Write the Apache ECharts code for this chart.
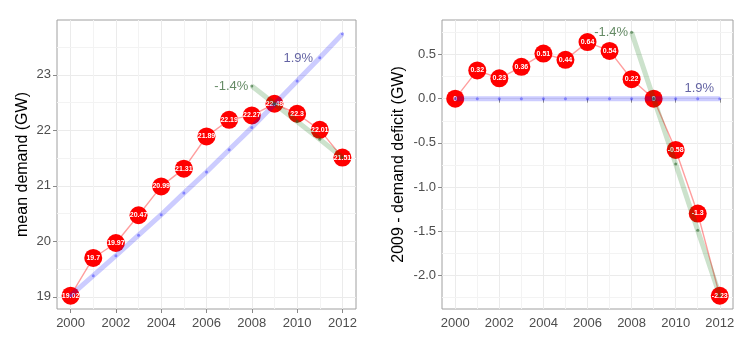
<!DOCTYPE html>
<html><head><meta charset="utf-8">
<script src="https://cdn.jsdelivr.net/npm/echarts@6/dist/echarts.min.js"></script>
<style>html,body{margin:0;padding:0;background:#fff}#c{width:754px;height:362px}</style>
</head><body><div id="c"></div>
<script>
const years = [2000,2001,2002,2003,2004,2005,2006,2007,2008,2009,2010,2011,2012];
const meanDemand = [19.02,19.7,19.97,20.47,20.99,21.31,21.89,22.19,22.27,22.48,22.3,22.01,21.51];
const growthTrend = [19.02,19.38,19.74,20.11,20.48,20.87,21.25,21.65,22.05,22.47,22.89,23.31,23.74];
const declineYears = [2008,2009,2010,2011,2012];
const declineTrend = [22.80,22.48,22.16,21.84,21.51];
const deficit = [0,0.32,0.23,0.36,0.51,0.44,0.64,0.54,0.22,0,-0.58,-1.3,-2.23];
const deficitGrowth = [0,0,0,0,0,0,0,0,0,0,0,0,0];
const deficitDecline = [0.75,0,-0.74,-1.49,-2.23];
const xTicks = [2000,2002,2004,2006,2008,2010,2012];
const xMinor = [2001,2003,2005,2007,2009,2011];
const leftYTicks = [19,20,21,22,23];
const leftYMinor = [19.5,20.5,21.5,22.5,23.5];
const rightYTicks = [-2,-1.5,-1,-0.5,0,0.5];
const rightYMinor = [-2.25,-1.75,-1.25,-0.75,-0.25,0.25,0.75];

const FONT = "'Liberation Sans', Arial, sans-serif";
const zip = (a,b) => a.map((v,i)=>[v,b[i]]);

function xAxisOf(gi){
  return {type:'value', gridIndex:gi, min:1999.4, max:2012.6,
    axisLine:{show:false},
    axisTick:{show:true, length:4, lineStyle:{color:'#8a8a8a'}, customValues:xTicks},
    axisLabel:{customValues:xTicks, margin:8, color:'#4d4d4d', fontSize:13, fontFamily:FONT, formatter:v=>String(v)},
    splitLine:{show:true, lineStyle:{color:'#ebebeb', width:1}}};
}
function yAxisOf(gi, min, max, ticks, name, gap, fmt){
  return {type:'value', gridIndex:gi, min:min, max:max,
    name:name, nameLocation:'middle', nameGap:gap,
    nameTextStyle:{fontSize:16, color:'#000', fontFamily:FONT},
    axisLine:{show:false},
    axisTick:{show:true, length:4, lineStyle:{color:'#8a8a8a'}, customValues:ticks},
    axisLabel:{customValues:ticks, margin:6, color:'#4d4d4d', fontSize:13, fontFamily:FONT, formatter:fmt},
    splitLine:{show:true, lineStyle:{color:'#ebebeb', width:1}}};
}
function minorSeries(gi, xs, ys){
  return {type:'line', xAxisIndex:gi, yAxisIndex:gi, data:[], silent:true, z:1,
    markLine:{silent:true, z:1, symbol:['none','none'], animation:false, label:{show:false},
      lineStyle:{color:'#f3f3f3', width:1, type:'solid'},
      emphasis:{disabled:true},
      data: xs.map(v=>({xAxis:v})).concat(ys.map(v=>({yAxis:v})))}};
}
function redSeries(gi, data){
  return {type:'line', xAxisIndex:gi, yAxisIndex:gi, data:data, z:3,
    lineStyle:{color:'rgba(255,0,0,0.38)', width:1.4},
    symbol:'circle', symbolSize:18, itemStyle:{color:'#ff0000'},
    label:{show:true, position:'inside', color:'#fff', fontSize:7, fontWeight:'bold', fontFamily:FONT,
      formatter:p=>String(p.value[1])}};
}
function trendSeries(gi, data, lineColor, dotColor){
  return {type:'line', xAxisIndex:gi, yAxisIndex:gi, data:data, z:4,
    lineStyle:{color:lineColor, width:5}, symbol:'circle', symbolSize:3,
    itemStyle:{color:dotColor}, label:{show:false}};
}
function textSeries(gi, pt, text, color, pos){
  return {type:'scatter', xAxisIndex:gi, yAxisIndex:gi, data:[pt], symbolSize:1, z:5,
    itemStyle:{color:'rgba(0,0,0,0)'},
    label:{show:true, position:pos, distance:3, formatter:text, color:color, fontSize:13, fontFamily:FONT}};
}

const chart = echarts.init(document.getElementById('c'), null, {renderer:'canvas'});
chart.setOption({
  animation:false,
  backgroundColor:'#fff',
  grid:[
    {left:57, top:20, width:299, height:289, show:true, borderColor:'#a0a0a0', borderWidth:1, backgroundColor:'#fff', containLabel:false},
    {left:442, top:20, width:291, height:289, show:true, borderColor:'#a0a0a0', borderWidth:1, backgroundColor:'#fff', containLabel:false}
  ],
  xAxis:[xAxisOf(0), xAxisOf(1)],
  yAxis:[
    yAxisOf(0, 18.78, 23.99, leftYTicks, 'mean demand (GW)', 26, v=>String(v)),
    yAxisOf(1, -2.38, 0.89, rightYTicks, '2009 - demand deficit (GW)', 35, v=>v.toFixed(1))
  ],
  series:[
    minorSeries(0, xMinor, leftYMinor),
    minorSeries(1, xMinor, rightYMinor),
    redSeries(0, zip(years, meanDemand)),
    trendSeries(0, zip(years, growthTrend), 'rgba(0,0,255,0.2)', 'rgba(60,60,255,0.5)'),
    trendSeries(0, zip(declineYears, declineTrend), 'rgba(0,110,0,0.2)', 'rgba(40,100,40,0.6)'),
    textSeries(0, [2008, 22.80], '-1.4%', '#3f6e3f', 'left'),
    textSeries(0, [2010.05, 23.29], '1.9%', '#3c3c8c', 'inside'),
    redSeries(1, zip(years, deficit)),
    trendSeries(1, zip(years, deficitGrowth), 'rgba(0,0,255,0.2)', 'rgba(60,60,255,0.5)'),
    trendSeries(1, zip(declineYears, deficitDecline), 'rgba(0,110,0,0.2)', 'rgba(40,100,40,0.6)'),
    textSeries(1, [2008, 0.75], '-1.4%', '#3f6e3f', 'left'),
    textSeries(1, [2011.07, 0.117], '1.9%', '#3c3c8c', 'inside')
  ]
});
</script></body></html>
